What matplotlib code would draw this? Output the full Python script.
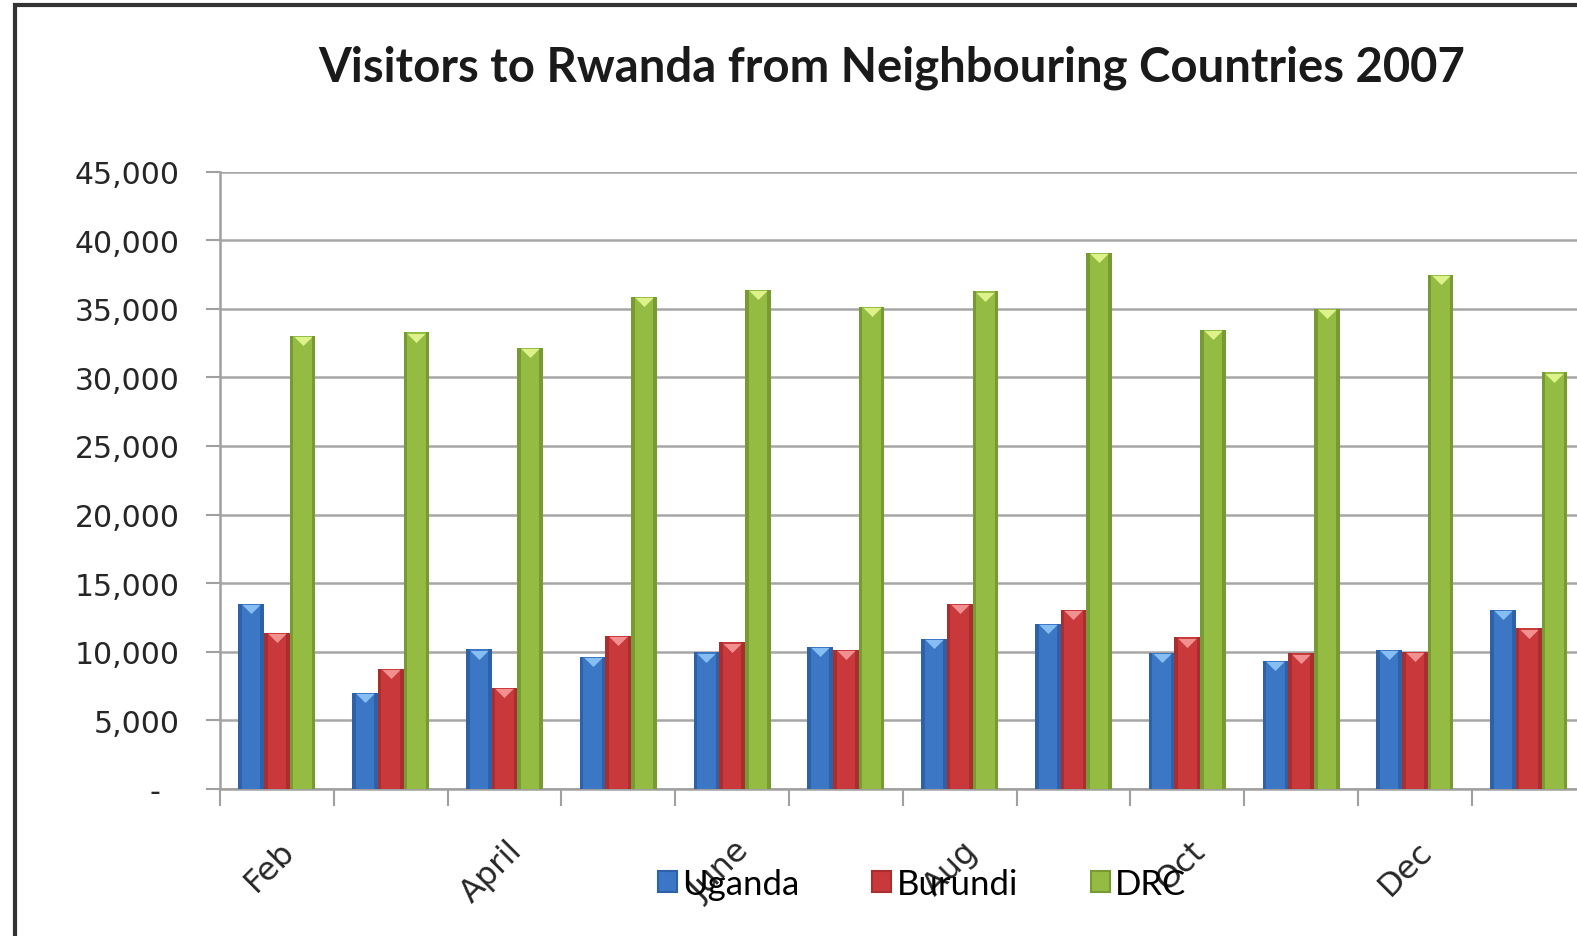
import numpy as np
import matplotlib
matplotlib.use("Agg")
import matplotlib.pyplot as plt
import matplotlib.transforms as mtransforms
from matplotlib.patches import Patch, Rectangle
from matplotlib.path import Path

# data
months = ["Feb", "March", "April", "May", "June", "July",
          "Aug", "Sept", "Oct", "Nov", "Dec", "Jan"]
uganda = [13480, 7000, 10180, 9600, 9960, 10370,
          10930, 12020, 9910, 9350, 10130, 13070]
burundi = [11370, 8750, 7340, 11170, 10690, 10130,
           13480, 13070, 11050, 9890, 10010, 11710]
drc = [33030, 33280, 32160, 35870, 36380, 35150,
       36270, 39040, 33450, 34980, 37460, 30360]
series_names = ["Uganda", "Burundi", "DRC"]
yticks = [0, 5000, 10000, 15000, 20000, 25000, 30000, 35000, 40000, 45000]

# (main, dark edge, light top triangle)
colors = [("#3B77C5", "#2E62A8", "#86BDF2"),
          ("#C9393B", "#A82E30", "#F29090"),
          ("#94BC43", "#779A33", "#DDF28A")]

W, H = 1577, 937
fig = plt.figure(figsize=(W / 100, H / 100), dpi=100)
ax = fig.add_axes([220 / W, (H - 790) / H, 12 * 113.8 / W, (790 - 172.5) / H])

x = np.arange(len(months)) + 0.5
bw = 0.226
tri = Path([(-1, 0.5), (1, 0.5), (0, -0.5), (-1, 0.5)],
           [Path.MOVETO, Path.LINETO, Path.LINETO, Path.CLOSEPOLY])

for k, vals in enumerate([uganda, burundi, drc]):
    main, dark, light = colors[k]
    xs = x + (k - 1) * bw
    ax.bar(xs, vals, width=bw, color=dark, zorder=3)
    ax.bar(xs, vals, width=bw * 0.72, color=main, zorder=4)
    ax.scatter(xs, np.array(vals) - 380, marker=tri, s=170,
               color=light, zorder=5, linewidths=0)

ax.set_xlim(0, 12)
ax.set_ylim(0, 45000)
ax.set_yticks(yticks)
ax.set_yticklabels(["-  "] + [f"{v:,}" for v in yticks[1:]],
                   fontsize=21.5, family="DejaVu Sans", color="#262626")
ax.yaxis.grid(True, color="#A6A6A6", lw=1.8, zorder=0)
ax.tick_params(axis="y", length=10, width=1.5, color="#A0A0A0", pad=19)

ax.set_xticks(x[::2])
ax.set_xticklabels(months[::2], rotation=45, ha="right", va="top",
                   rotation_mode="anchor", fontsize=23,
                   family="DejaVu Sans", color="#262626")
ax.set_xticks(np.arange(0, 13), minor=True)
ax.tick_params(axis="x", which="major", length=0, pad=33)
ax.tick_params(axis="x", which="minor", length=12, width=1.5, color="#A0A0A0")
shift = mtransforms.ScaledTranslation(2 / 100, 0, fig.dpi_scale_trans)
for lab in ax.get_xticklabels():
    lab.set_transform(lab.get_transform() + shift)

for s in ["top", "right"]:
    ax.spines[s].set_visible(False)
for s in ["left", "bottom"]:
    ax.spines[s].set_color("#A0A0A0")
    ax.spines[s].set_linewidth(1.8)
ax.set_axisbelow(True)

fig.text(892 / W, 1 - 68 / H,
         "Visitors to Rwanda from Neighbouring Countries 2007",
         ha="center", va="center", fontsize=34, fontweight="bold",
         family="Lato", color="#1A1A1A")

handles = [Patch(facecolor=colors[k][0], edgecolor=colors[k][1], lw=1.5)
           for k in range(3)]
fig.legend(handles, series_names, loc="center",
           bbox_to_anchor=(922 / W, 1 - 885 / H), ncol=3, frameon=False,
           prop={"family": "Lato", "size": 25}, handlelength=0.55,
           handleheight=0.55, handletextpad=0.15, columnspacing=2.1)

# chart frame
fig.add_artist(Rectangle((15 / W, -0.1), 2.0, 1.1 - 6 / H,
                         transform=fig.transFigure, fill=False,
                         edgecolor="#333333", lw=3))

fig.savefig("out.png", dpi=100)
